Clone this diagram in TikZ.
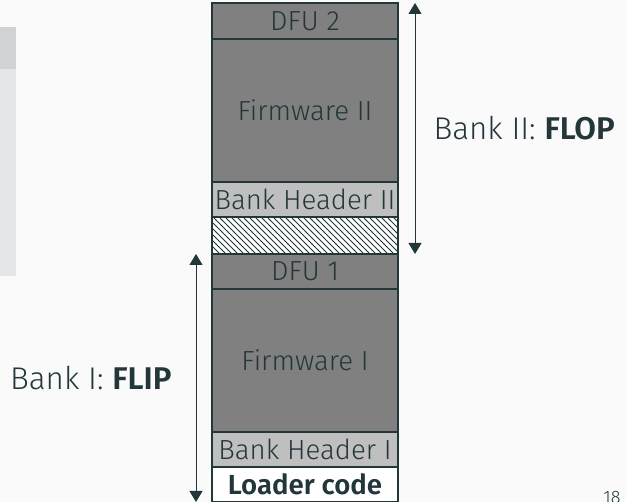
\documentclass[tikz,border=0pt]{standalone}
\usepackage{fontspec}
\setmainfont{Fira Sans}[UprightFont=* Light, BoldFont=* SemiBold]
\usetikzlibrary{arrows.meta,patterns,positioning}

\definecolor{mDarkTeal}{HTML}{23373B}
\definecolor{mBackground}{HTML}{FAFAFA}
\definecolor{blockTitle}{HTML}{CFD3D4}
\definecolor{blockBody}{HTML}{E4E6E7}

\tikzset{
  membox/.style={draw=mDarkTeal, line width=0.8pt, inner sep=0pt, outer sep=0pt,
    minimum width=93pt, text=mDarkTeal, font=\fontsize{13.8}{16}\selectfont},
  dfubox/.style={membox, fill=gray, minimum height=18pt},
  fwbox/.style={membox, fill=gray, minimum height=71.5pt},
  headerbox/.style={membox, fill=gray!50, minimum height=17.5pt},
  gapbox/.style={membox, fill=white, minimum height=18.5pt,
    postaction={pattern=north west lines, pattern color=mDarkTeal}},
  loaderbox/.style={membox, fill=white, minimum height=17.5pt, font=\fontsize{13.8}{16}\selectfont\bfseries},
  bankarrow/.style={{Triangle[width=6.5pt,length=5.5pt]}-{Triangle[width=6.5pt,length=5.5pt]},
    draw=mDarkTeal, fill=mDarkTeal, line width=0.5pt},
  banklabel/.style={inner sep=0pt, text=mDarkTeal, font=\fontsize{15.7}{18}\selectfont}
}

\begin{document}
\begin{tikzpicture}[x=0.5pt, y=0.5pt]
\def\colx{305}
\def\coltop{499}

\fill[mBackground] (0,0) rectangle (626,502);
\useasboundingbox (0,0) rectangle (626,502);

% block of the slide on the left
\fill[blockTitle] (0,475) rectangle (16,433);
\fill[blockBody] (0,433) rectangle (16,226);

% bank II
\node[dfubox, anchor=north] (dfu2) at (\colx,\coltop) {DFU 2};
\node[fwbox, below=0pt of dfu2] (fw2) {Firmware II};
\node[headerbox, below=0pt of fw2] (hdr2) {Bank Header II};
\node[gapbox, below=0pt of hdr2] (gap) {};

% bank I
\node[dfubox, minimum height=17.5pt, below=0pt of gap] (dfu1) {DFU 1};
\node[fwbox, below=0pt of dfu1] (fw1) {Firmware I};
\node[headerbox, below=0pt of fw1] (hdr1) {Bank Header I};
\node[loaderbox, below=0pt of hdr1] (loader) {Loader code};

\draw[bankarrow] ([xshift=8.5pt]dfu2.north east) -- ([xshift=8.5pt]gap.south east)
  node[banklabel, midway, right=9pt] (flop) {Bank II: \textbf{FLOP}};
\draw[bankarrow] ([xshift=-8pt]dfu1.north west) -- ([xshift=-8pt]loader.south west)
  node[banklabel, midway, left=12pt] (flip) {Bank I: \textbf{FLIP}};

\node[anchor=north west, inner sep=0pt, text=mDarkTeal, font=\fontsize{9}{10}\selectfont] (pagenum) at (603,11) {18};
\end{tikzpicture}
\end{document}
